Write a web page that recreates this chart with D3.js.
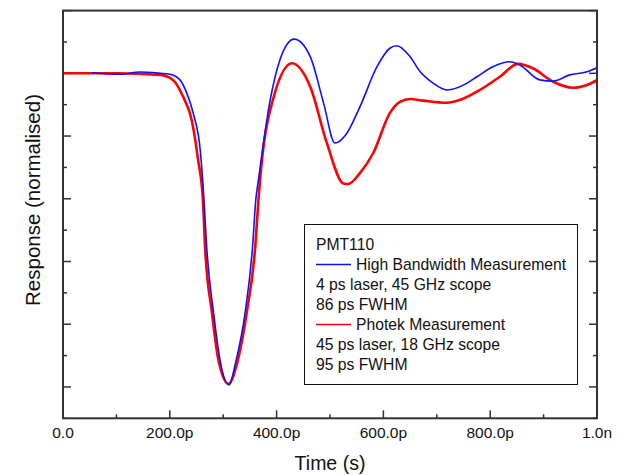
<!DOCTYPE html>
<html>
<head>
<meta charset="utf-8">
<script src="https://cdn.jsdelivr.net/npm/d3@7"></script>
<style>
  body { margin: 0; background: #fff; }
  text { font-family: Arial, "Liberation Sans", sans-serif; fill: #111; }
</style>
</head>
<body>
<svg id="chart" width="624" height="475"></svg>
<script>
// time in ps, response normalised
var hbTime = [54, 107, 144, 182, 200, 219, 232, 244, 257, 264, 269, 282, 294, 311, 323, 341, 355, 361, 366, 388, 406, 433, 463, 488, 509, 530, 556, 588, 612, 625, 650, 669, 693, 719, 756, 775, 805, 837, 856, 893, 918, 949, 981, 1000];
var hbResp = [0.002, -0.003, 0.004, 0.0, -0.003, -0.021, -0.064, -0.128, -0.245, -0.404, -0.553, -0.764, -0.914, -0.994, -0.924, -0.764, -0.553, -0.404, -0.340, -0.085, 0.042, 0.109, 0.053, -0.095, -0.222, -0.195, -0.107, 0.021, 0.080, 0.088, 0.053, 0.005, -0.031, -0.053, -0.032, -0.011, 0.021, 0.037, 0.026, -0.021, -0.025, -0.005, 0.005, 0.018];

var phTime = [0, 100, 182, 206, 225, 241, 253, 262, 266, 279, 291, 310, 326, 344, 360, 366, 369, 393, 429, 463, 494, 525, 534, 556, 581, 612, 631, 650, 674, 719, 743, 781, 818, 852, 880, 918, 955, 981, 1000];
var phResp = [0.0, 0.0, -0.005, -0.021, -0.075, -0.149, -0.276, -0.404, -0.553, -0.764, -0.914, -0.990, -0.924, -0.764, -0.553, -0.404, -0.340, -0.085, 0.032, -0.043, -0.222, -0.351, -0.353, -0.318, -0.254, -0.127, -0.091, -0.082, -0.087, -0.094, -0.085, -0.053, -0.011, 0.030, 0.016, -0.027, -0.046, -0.037, -0.022];

var xTicks = [0, 200, 400, 600, 800, 1000];
var xTickLabels = ["0.0", "200.0p", "400.0p", "600.0p", "800.0p", "1.0n"];
var xMinor = [100, 300, 500, 700, 900];
var yTicks = [0.2, 0.0, -0.2, -0.4, -0.6, -0.8, -1.0];
var yMinor = [0.1, -0.1, -0.3, -0.5, -0.7, -0.9, -1.1];

var legendLines = [
  {text: "PMT110", color: null},
  {text: "High Bandwidth Measurement", color: "#1010ff"},
  {text: "4 ps laser, 45 GHz scope", color: null},
  {text: "86 ps FWHM", color: null},
  {text: "Photek Measurement", color: "#ff0000"},
  {text: "45 ps laser, 18 GHz scope", color: null},
  {text: "95 ps FWHM", color: null}
];

var svg = d3.select("#chart");
var pLeft = 63, pRight = 597, pTop = 10.6, pBottom = 418.3;

var x = d3.scaleLinear().domain([0, 1000]).range([pLeft, pRight]);
var y = d3.scaleLinear().domain([-1.1, 0.2]).range([pBottom, pTop]);

var axisColor = "#333";

// ticks (inward)
var g = svg.append("g");
xTicks.forEach(function(t){
  g.append("line").attr("x1", x(t)).attr("x2", x(t))
    .attr("y1", pBottom).attr("y2", pBottom - 8)
    .attr("stroke", axisColor).attr("stroke-width", 1.5);
});
xMinor.forEach(function(t){
  g.append("line").attr("x1", x(t)).attr("x2", x(t))
    .attr("y1", pBottom).attr("y2", pBottom - 4)
    .attr("stroke", axisColor).attr("stroke-width", 1.5);
});
yTicks.forEach(function(v){
  g.append("line").attr("x1", pLeft).attr("x2", pLeft + 8)
    .attr("y1", y(v)).attr("y2", y(v))
    .attr("stroke", axisColor).attr("stroke-width", 1.5);
  g.append("line").attr("x1", pRight).attr("x2", pRight - 8)
    .attr("y1", y(v)).attr("y2", y(v))
    .attr("stroke", axisColor).attr("stroke-width", 1.5);
});
yMinor.forEach(function(v){
  g.append("line").attr("x1", pLeft).attr("x2", pLeft + 4)
    .attr("y1", y(v)).attr("y2", y(v))
    .attr("stroke", axisColor).attr("stroke-width", 1.5);
  g.append("line").attr("x1", pRight).attr("x2", pRight - 4)
    .attr("y1", y(v)).attr("y2", y(v))
    .attr("stroke", axisColor).attr("stroke-width", 1.5);
});

// tick labels
xTicks.forEach(function(t, i){
  svg.append("text").attr("x", x(t)).attr("y", 438)
    .attr("text-anchor", "middle").attr("font-size", 15.5)
    .text(xTickLabels[i]);
});

// data lines
var line = d3.line()
  .x(function(d){ return x(d[0]); })
  .y(function(d){ return y(d[1]); })
  .curve(d3.curveMonotoneX);

var hbData = hbTime.map(function(t, i){ return [t, hbResp[i]]; });
var phData = phTime.map(function(t, i){ return [t, phResp[i]]; });

svg.append("path").datum(phData)
  .attr("d", line).attr("fill", "none")
  .attr("stroke", "#ff0000").attr("stroke-width", 2.6);

svg.append("path").datum(hbData)
  .attr("d", line).attr("fill", "none")
  .attr("stroke", "#1010ff").attr("stroke-width", 1.6);

// frame
svg.append("rect").attr("x", pLeft).attr("y", pTop)
  .attr("width", pRight - pLeft).attr("height", pBottom - pTop)
  .attr("fill", "none").attr("stroke", axisColor).attr("stroke-width", 2);

// axis titles
svg.append("text").attr("x", (pLeft + pRight) / 2).attr("y", 470)
  .attr("text-anchor", "middle").attr("font-size", 19.5)
  .text("Time (s)");

svg.append("text")
  .attr("transform", "translate(40,200) rotate(-90)")
  .attr("text-anchor", "middle").attr("font-size", 20.5)
  .text("Response (normalised)");

// legend
var lg = svg.append("g");
lg.append("rect").attr("x", 304.5).attr("y", 224.5)
  .attr("width", 273).attr("height", 160)
  .attr("fill", "#fff").attr("stroke", "#111").attr("stroke-width", 1);

legendLines.forEach(function(d, i){
  var by = 250 + i * 20;
  var tx = 316;
  if (d.color) {
    lg.append("line").attr("x1", 316).attr("x2", 351)
      .attr("y1", by - 5.5).attr("y2", by - 5.5)
      .attr("stroke", d.color).attr("stroke-width", 1.5);
    tx = 356;
  }
  lg.append("text").attr("x", tx).attr("y", by)
    .attr("font-size", 15.7).text(d.text);
});
</script>
</body>
</html>
